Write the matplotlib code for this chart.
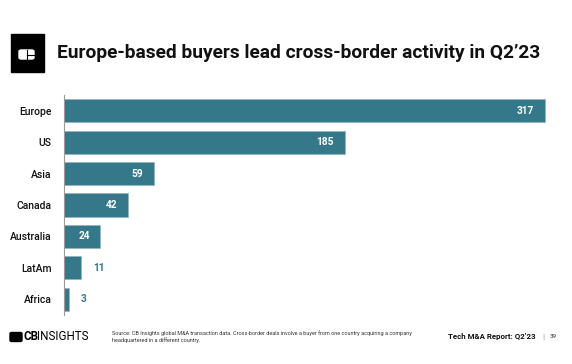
import matplotlib
matplotlib.use('Agg')
import matplotlib.pyplot as plt
from matplotlib.patches import Rectangle, FancyBboxPatch

plt.rcParams['font.family'] = ['Roboto', 'DejaVu Sans']

regions = ['Europe', 'US', 'Asia', 'Canada', 'Australia', 'LatAm', 'Africa']
deals = [317, 185, 59, 42, 24, 11, 3]

bar_col = '#35788a'
W, H = 572, 364

fig = plt.figure(figsize=(5.72, 3.64), dpi=100)
ax = fig.add_axes([64 / W, (H - 315) / H, 496 / W, 220 / H])

ypos = list(range(len(regions)))
ax.barh(ypos, deals, height=0.74, color=bar_col, edgecolor='#8fb6c0', linewidth=0.5)
ax.set_ylim(len(regions) - 0.5, -0.5)
ax.set_xlim(0, 326.9)
ax.set_yticks(ypos)
ax.set_yticklabels(regions, fontsize=7.5, fontweight='medium', color='#111111')
ax.tick_params(axis='y', length=0, pad=9)
ax.set_xticks([])
for s in ['top', 'right', 'bottom']:
    ax.spines[s].set_visible(False)
ax.spines['left'].set_color('#9a9a9a')
ax.spines['left'].set_linewidth(0.8)

for y, v in zip(ypos, deals):
    if v > 20:
        ax.text(v - 7, y, str(v), ha='right', va='center', color='white',
                fontsize=7.3, fontweight='bold')
    else:
        ax.text(v + 8, y, str(v), ha='left', va='center', color=bar_col,
                fontsize=7.3, fontweight='bold')

# header logo
fig.patches.append(Rectangle((11 / W, (H - 72) / H), 33 / W, 38 / H,
                             transform=fig.transFigure, color='black'))
fig.patches.append(FancyBboxPatch((19 / W, (H - 59) / H), 15 / W, 9 / H,
                                  boxstyle='round,pad=0,rounding_size=0.004',
                                  transform=fig.transFigure, color='white'))
fig.add_artist(plt.Line2D([27 / W, 27 / W], [(H - 59) / H, (H - 50) / H],
                          transform=fig.transFigure, color='black', lw=0.8))
fig.add_artist(plt.Line2D([27 / W, 34 / W], [(H - 54.5) / H, (H - 54.5) / H],
                          transform=fig.transFigure, color='black', lw=0.8))

fig.text(57 / W, (H - 53) / H, 'Europe-based buyers lead cross-border activity in Q2\u201923',
         fontsize=13.8, fontweight='bold', va='center', ha='left', color='#111111')

# footer
fig.patches.append(FancyBboxPatch((10 / W, (H - 341.5) / H), 12 / W, 9 / H,
                                  boxstyle='round,pad=0,rounding_size=0.003',
                                  transform=fig.transFigure, color='black'))
cb = fig.text(24 / W, (H - 337) / H, 'CB', fontsize=8.4, fontweight='bold', va='center')
r = fig.canvas.get_renderer()
x_end = (cb.get_window_extent(r).x1 - 1.5) / W
fig.text(x_end, (H - 337) / H, 'INSIGHTS', fontsize=8.4, fontweight='normal', va='center')
fig.text(112 / W, (H - 337) / H,
         'Source: CB Insights global M&A transaction data. Cross-border deals involve a buyer from one country acquiring a company\nheadquartered in a different country.',
         fontsize=4.0, va='center', ha='left', color='#333333', linespacing=1.3)
fig.text(536 / W, (H - 337) / H, 'Tech M&A Report: Q2\u201923', fontsize=5.7,
         fontweight='bold', va='center', ha='right', color='#111111')
fig.text(542 / W, (H - 337) / H, '|', fontsize=6, va='center', color='#999999')
fig.text(550 / W, (H - 337) / H, '39', fontsize=4.5, va='center', color='#333333')

fig.savefig('out.png', dpi=100)
